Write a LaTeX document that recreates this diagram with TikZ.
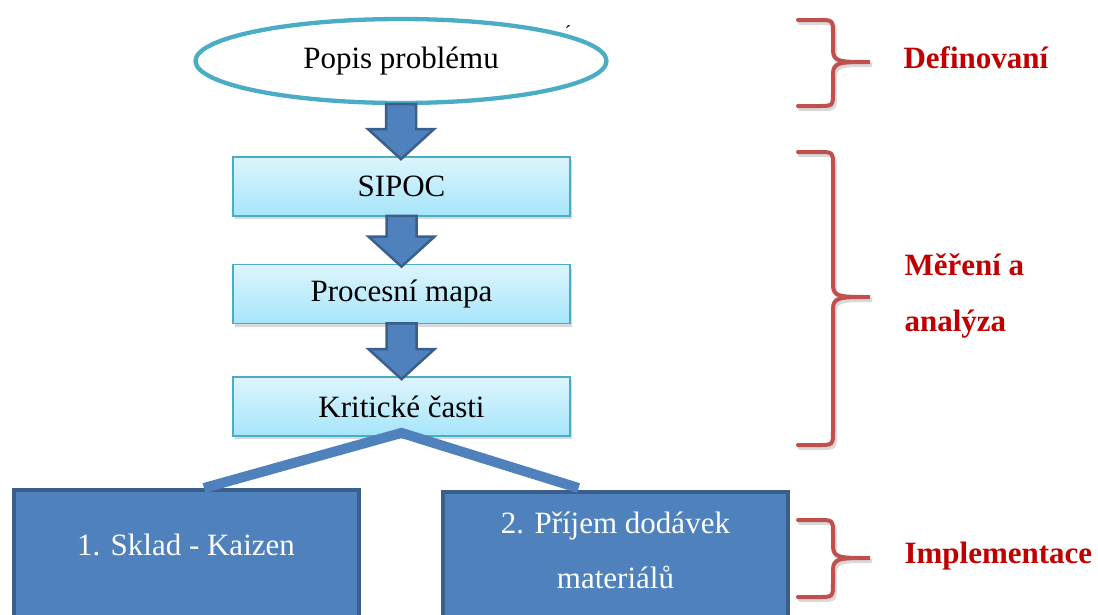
\documentclass[tikz,border=0pt]{standalone}
\usepackage{fontspec}
\setmainfont{Liberation Serif}
\usetikzlibrary{shapes.geometric,shadows,calc}

\definecolor{tealline}{HTML}{4BACC6}
\definecolor{boxtop}{HTML}{DDF5FD}
\definecolor{boxbottom}{HTML}{A6E5FA}
\definecolor{arrowblue}{HTML}{4F81BD}
\definecolor{arrowedge}{HTML}{3A5F8B}
\definecolor{bracered}{HTML}{C0504D}
\definecolor{labelred}{HTML}{C00000}

\tikzset{
  bigtext/.style={font=\fontsize{31}{37}\selectfont},
  problem/.style={ellipse, draw=tealline, line width=4.3pt, fill=white,
    minimum width=411pt, minimum height=84pt, bigtext},
  stepbox/.style={rectangle, draw=tealline, line width=1.8pt,
    top color=boxtop, bottom color=boxbottom,
    minimum width=337pt, minimum height=59pt, bigtext,
    drop shadow={shadow xshift=1.5pt, shadow yshift=-3pt, opacity=0.3}},
  implbox/.style={rectangle, draw=arrowedge, line width=4pt, fill=arrowblue,
    minimum width=345pt, minimum height=150pt, anchor=north},
  impltext/.style={text=white, align=center, font=\fontsize{31}{55}\selectfont},
  blockarrow/.style={fill=arrowblue, draw=arrowedge, line width=2.5pt, line join=miter},
  splitline/.style={draw=arrowblue, line width=10pt, line join=miter},
  bracestyle/.style={draw=bracered, line width=4pt, line cap=round},
  braceshadow/.style={draw=black, opacity=0.15, line width=4pt, line cap=round},
  stagelabel/.style={text=labelred, anchor=west, align=left,
    font=\bfseries\fontsize{31}{56}\selectfont}
}

% block arrow from one node down to the next
\newcommand{\blockdown}[2]{%
  \draw[blockarrow] let \p1=(#1.south), \p2=(#2.north) in
    (\x1-15pt,\y1+1pt) -- (\x1-15pt,\y2+27pt) -- (\x1-33pt,\y2+27pt) -- (\x1,\y2-3pt)
    -- (\x1+33pt,\y2+27pt) -- (\x1+15pt,\y2+27pt) -- (\x1+15pt,\y1+1pt) -- cycle;}

% red curly brace: top, middle, bottom
\newcommand{\bracepath}[3]{(798,#1) -- (818,#1) .. controls (833,#1) .. (833,#1+14)
    -- (833,#2-12) .. controls (833,#2) and (840,#2) .. (870,#2)
    .. controls (840,#2) and (833,#2) .. (833,#2+12)
    -- (833,#3-14) .. controls (833,#3) .. (818,#3) -- (798,#3)}
\newcommand{\redbrace}[3]{%
  \draw[braceshadow, xshift=2pt, yshift=-3pt] \bracepath{#1}{#2}{#3};
  \draw[bracestyle] \bracepath{#1}{#2}{#3};}

\begin{document}
\begin{tikzpicture}[x=1pt, y=-1pt]
  \clip (0,0) rectangle (1098,614);

  %problem and steps
  \node[problem] (popis) at (401,61) {Popis problému};
  \node[font=\fontsize{20}{20}\selectfont] (akcent) at (568,33) {´};
  \node[stepbox] (sipoc) at (401.5,186.5) {SIPOC};
  \node[stepbox] (mapa) at (401.5,294) {Procesní mapa};
  \node[stepbox] (kriticke) at (401.5,406.5) {Kritické časti};

  %block arrows
  \blockdown{popis}{sipoc}
  \blockdown{sipoc}{mapa}
  \blockdown{mapa}{kriticke}

  %implementation boxes
  \node[implbox] (sklad) at (186,488) {};
  \node[impltext] (skladtext) at ([yshift=-57pt]sklad.north) {1. Sklad - Kaizen};
  \node[implbox] (prijem) at (615.5,490) {};
  \node[impltext] (prijemtext) at ([yshift=-60pt]prijem.north) {2. Příjem dodávek\\materiálů};

  %split from critical parts
  \draw[splitline] ([xshift=18pt]sklad.north) -- ([yshift=4pt]kriticke.south) -- ([xshift=-37pt,yshift=2pt]prijem.north);

  %braces and phases
  \redbrace{20}{62}{106}
  \node[stagelabel] (definovani) at (900,58) {Definovaní};
  \redbrace{152}{297}{445}
  \node[stagelabel] (mereni) at (901,296) {Měření a\\analýza};
  \redbrace{520}{558}{597}
  \node[stagelabel] (implementace) at (901,556) {Implementace};
\end{tikzpicture}
\end{document}
